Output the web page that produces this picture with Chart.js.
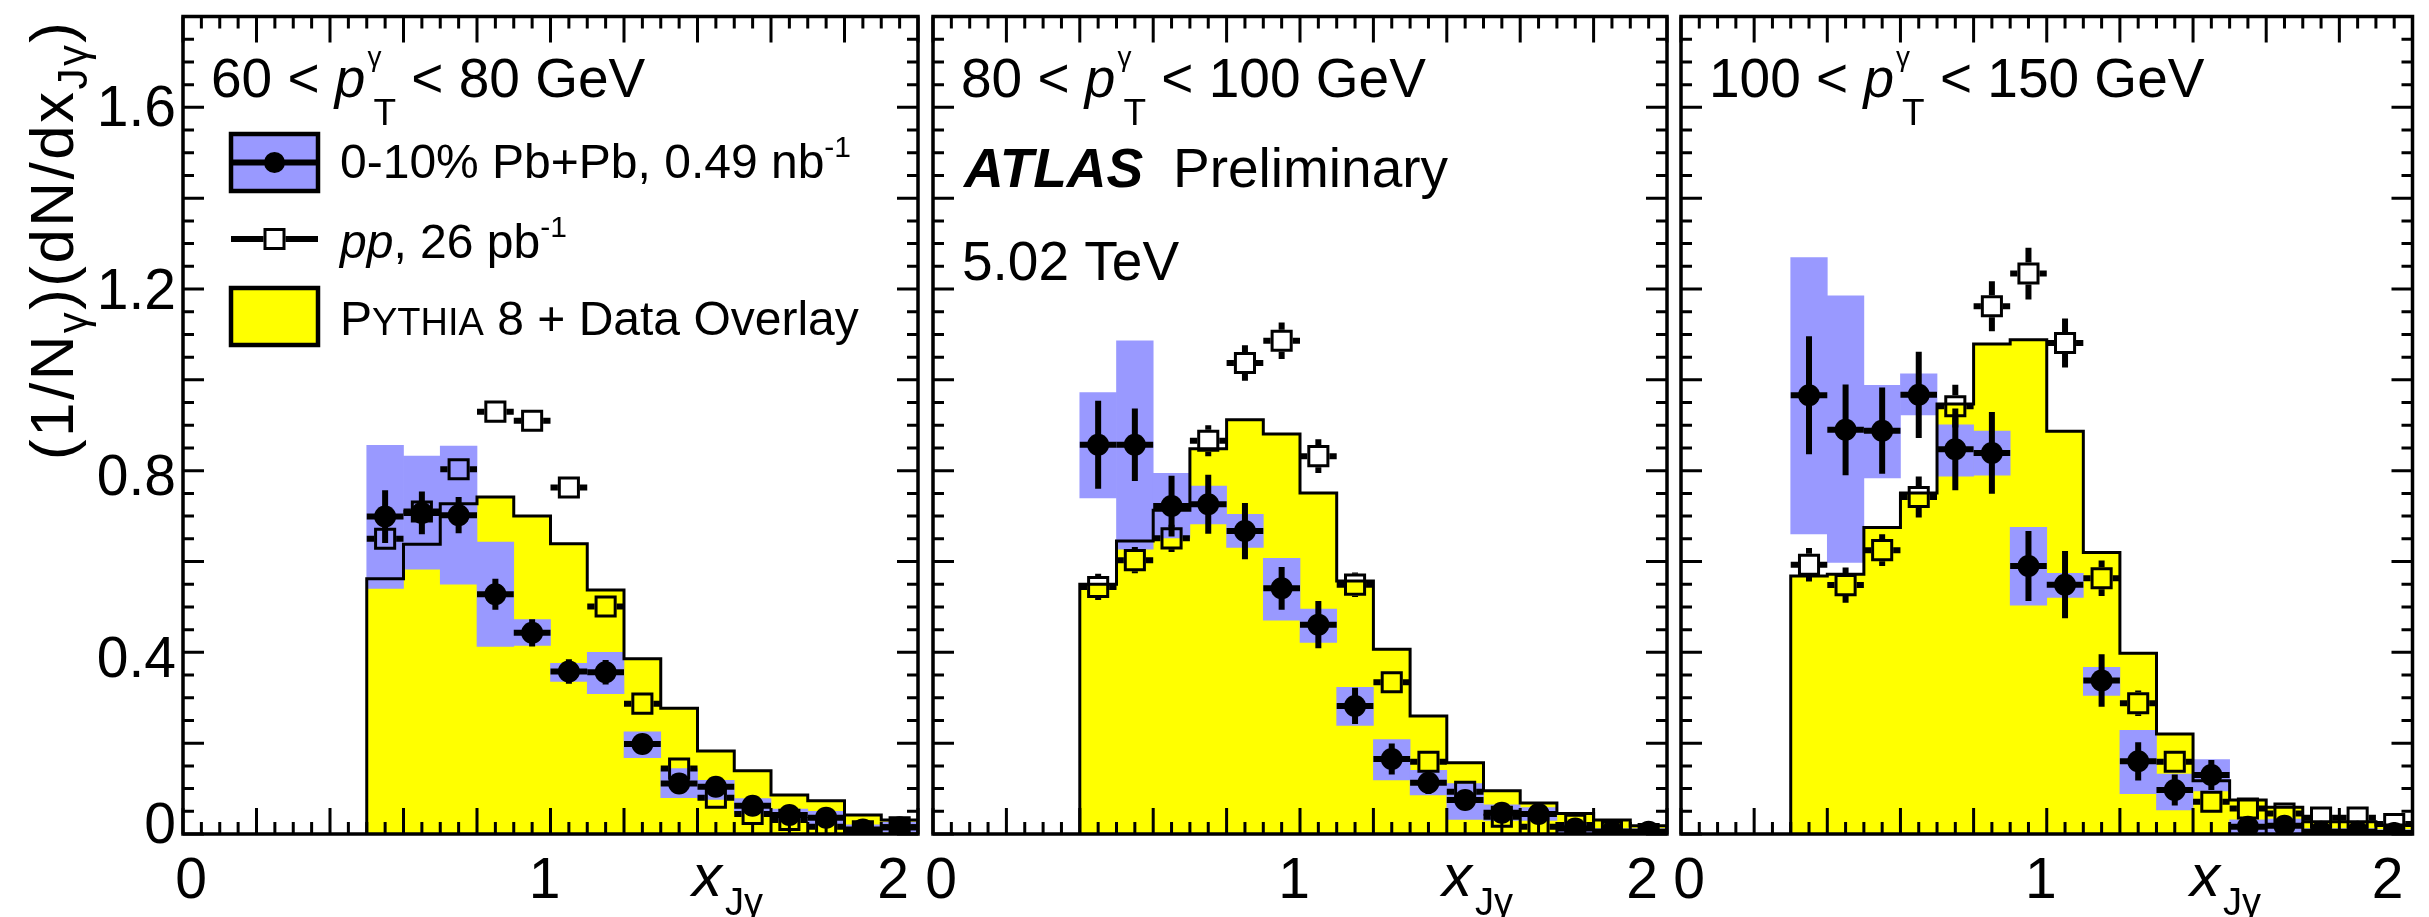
<!DOCTYPE html>
<html><head><meta charset="utf-8">
<script src="https://cdn.jsdelivr.net/npm/chart.js@4.4.1/dist/chart.umd.min.js"></script>
<style>
html,body{margin:0;padding:0;background:#fff;}
#wrap{position:relative;width:2429px;height:917px;background:#fff;}
canvas{position:absolute;left:0;top:0;}
</style></head><body>
<div id="wrap">
<canvas id="c1" width="2429" height="917"></canvas>
<canvas id="c2" width="2429" height="917"></canvas>
<canvas id="c3" width="2429" height="917"></canvas>
</div>
<script>
// ---------------- DATA ----------------
// Panel 1: 60 < pT < 80 GeV
const edges1 = [0.5,0.6,0.7,0.8,0.9,1.0,1.1,1.2,1.3,1.4,1.5,1.6,1.7,1.8,1.9,2.0];
const sim1 = [0.562,0.638,0.727,0.742,0.700,0.639,0.537,0.386,0.277,0.183,0.139,0.086,0.073,0.042,0.031];
const pbpb1 = [0.699,0.707,0.702,0.528,0.443,0.358,0.356,0.198,0.111,0.104,0.062,0.042,0.036,0.010,0.015];
const pbpbStat1 = [0.058,0.047,0.040,0.034,0.030,0.027,0.027,0.020,0.020,0.018,0.015,0.015,0.015,0.012,0.012];
const pbpbSysLo1 = [0.541,0.583,0.550,0.413,0.415,0.336,0.309,0.168,0.080,0.076,0.045,0.030,0.022,0.000,0.004];
const pbpbSysHi1 = [0.856,0.832,0.854,0.643,0.472,0.376,0.400,0.225,0.144,0.118,0.078,0.055,0.050,0.020,0.026];
const pp1 = [0.650,0.710,0.803,0.930,0.910,0.763,0.501,0.287,0.144,0.080,0.044,0.031,0.016,0.006,0.015];
const ppStat1 = [0.020,0.020,0.020,0.022,0.022,0.020,0.020,0.015,0.015,0.012,0.010,0.010,0.010,0.010,0.010];

// Panel 2: 80 < pT < 100 GeV
const edges2 = [0.4,0.5,0.6,0.7,0.8,0.9,1.0,1.1,1.2,1.3,1.4,1.5,1.6,1.7,1.8,1.9,2.0];
const sim2 = [0.550,0.645,0.713,0.848,0.912,0.881,0.751,0.557,0.407,0.260,0.157,0.095,0.068,0.045,0.031,0.018];
const pbpb2 = [0.857,0.857,0.722,0.726,0.667,0.541,0.461,0.282,0.165,0.113,0.075,0.047,0.044,0.012,0.005,0.005];
const pbpbStat2 = [0.097,0.080,0.067,0.065,0.062,0.047,0.052,0.040,0.034,0.025,0.022,0.020,0.020,0.015,0.015,0.015];
const pbpbSysLo2 = [0.740,0.627,0.652,0.683,0.631,0.471,0.422,0.239,0.119,0.086,0.032,0.030,0.030,0.000,0.000,0.000];
const pbpbSysHi2 = [0.972,1.086,0.794,0.766,0.704,0.607,0.495,0.323,0.208,0.140,0.111,0.064,0.058,0.025,0.012,0.012];
const pp2 = [0.544,0.603,0.651,0.866,1.037,1.086,0.832,0.549,0.334,0.159,0.093,0.038,0.016,0.020,0.005,0.000];
const ppStat2 = [0.029,0.029,0.030,0.034,0.039,0.040,0.037,0.027,0.020,0.015,0.012,0.010,0.010,0.010,0.010,0.010];

// Panel 3: 100 < pT < 150 GeV
const edges3 = [0.3,0.4,0.5,0.6,0.7,0.8,0.9,1.0,1.1,1.2,1.3,1.4,1.5,1.6,1.7,1.8,1.9,2.0];
const sim3 = [0.568,0.572,0.675,0.751,0.947,1.079,1.088,0.887,0.620,0.398,0.220,0.117,0.075,0.059,0.027,0.027,0.020];
const pbpb3 = [0.966,0.890,0.888,0.967,0.847,0.839,0.590,0.549,0.338,0.160,0.097,0.130,0.016,0.018,0.005,0.005,0.002];
const pbpbStat3 = [0.130,0.100,0.095,0.095,0.090,0.090,0.077,0.074,0.058,0.042,0.034,0.033,0.020,0.020,0.015,0.015,0.015];
const pbpbSysLo3 = [0.661,0.598,0.784,0.923,0.788,0.790,0.504,0.521,0.305,0.089,0.053,0.095,0.000,0.002,0.000,0.000,0.000];
const pbpbSysHi3 = [1.269,1.185,0.988,1.013,0.901,0.887,0.675,0.574,0.367,0.228,0.132,0.164,0.031,0.033,0.012,0.012,0.010];
const pp3 = [0.593,0.548,0.625,0.742,0.942,1.162,1.234,1.081,0.563,0.288,0.159,0.071,0.056,0.045,0.036,0.036,0.022];
const ppStat3 = [0.037,0.039,0.035,0.045,0.047,0.055,0.057,0.054,0.039,0.028,0.020,0.015,0.012,0.012,0.012,0.012,0.012];

// Axis tick labels
const xTickValues = [0, 1, 2];
const xTickLabels = ['0', '1', '2'];
const yTickValues = [0, 0.4, 0.8, 1.2, 1.6];
const yTickLabels = ['0', '0.4', '0.8', '1.2', '1.6'];

// Panel kinematic ranges (text)
const ptLow = ['60', '80', '100'];
const ptHigh = ['80', '100', '150'];

// ---------------- STYLE / LAYOUT ----------------
const FONT = '"Liberation Sans", Arial, Helvetica, sans-serif';
const F = (s, st) => `${st ? st + ' ' : ''}${s}px ${FONT}`;
const YELLOW = '#ffff00', BLUE = '#9999ff', BLACK = '#000000';
const TOP = 13, BOTTOM = 834, W = 2429, H = 917;

const panels = [
  {canvas:'c1', left:183, right:918, edges:edges1, sim:sim1, pb:pbpb1, pbStat:pbpbStat1, sysLo:pbpbSysLo1, sysHi:pbpbSysHi1, pp:pp1, ppStat:ppStat1, idx:0},
  {canvas:'c2', left:933, right:1667, edges:edges2, sim:sim2, pb:pbpb2, pbStat:pbpbStat2, sysLo:pbpbSysLo2, sysHi:pbpbSysHi2, pp:pp2, ppStat:ppStat2, idx:1},
  {canvas:'c3', left:1681, right:2414, edges:edges3, sim:sim3, pb:pbpb3, pbStat:pbpbStat3, sysLo:pbpbSysLo3, sysHi:pbpbSysHi3, pp:pp3, ppStat:ppStat3, idx:2}
];

function drawRich(ctx, x, y, segs) {
  let cx = x;
  for (const s of segs) {
    ctx.font = s.f;
    const px = cx + (s.dx || 0);
    ctx.fillText(s.t, px, y + (s.dy || 0));
    if (!s.stay) cx = px + ctx.measureText(s.t).width;
  }
  return cx;
}

function drawHeader(ctx, x, y, lo, hi) {
  drawRich(ctx, x, y, [
    {t: lo + ' < ', f: F(55)},
    {t: 'p', f: F(55, 'italic')},
    {t: '\u03B3', f: F(28), dx: 2, dy: -31, stay: true},
    {t: 'T', f: F(37), dx: 8, dy: 28},
    {t: ' < ' + hi + ' GeV', f: F(55)}
  ]);
}

function centersOf(edges) {
  return edges.slice(0, -1).map((e, i) => (e + edges[i + 1]) / 2);
}

function drawPPErrors(chart, p) {
  const ctx = chart.ctx, xs = chart.scales.x, ys = chart.scales.y, a = chart.chartArea;
  ctx.save();
  ctx.beginPath(); ctx.rect(a.left, a.top, a.right - a.left, a.bottom - a.top); ctx.clip();
  ctx.strokeStyle = BLACK; ctx.lineWidth = 6; ctx.lineCap = 'butt';
  const h = 11;
  p.pp.forEach((v, i) => {
    const x0 = xs.getPixelForValue(p.edges[i]), x1 = xs.getPixelForValue(p.edges[i + 1]);
    const cx = (x0 + x1) / 2, cy = ys.getPixelForValue(v);
    const e = Math.abs(ys.getPixelForValue(v + p.ppStat[i]) - cy);
    ctx.beginPath();
    ctx.moveTo(x0, cy); ctx.lineTo(cx - h, cy);
    ctx.moveTo(cx + h, cy); ctx.lineTo(x1, cy);
    if (e > h) {
      ctx.moveTo(cx, cy - e); ctx.lineTo(cx, cy - h);
      ctx.moveTo(cx, cy + h); ctx.lineTo(cx, cy + e);
    }
    ctx.stroke();
  });
  ctx.restore();
}

function drawPbErrors(chart, p) {
  const ctx = chart.ctx, xs = chart.scales.x, ys = chart.scales.y, a = chart.chartArea;
  ctx.save();
  ctx.beginPath(); ctx.rect(a.left, a.top, a.right - a.left, a.bottom - a.top); ctx.clip();
  ctx.strokeStyle = BLACK; ctx.lineWidth = 6; ctx.lineCap = 'butt';
  p.pb.forEach((v, i) => {
    const x0 = xs.getPixelForValue(p.edges[i]), x1 = xs.getPixelForValue(p.edges[i + 1]);
    const cx = (x0 + x1) / 2, cy = ys.getPixelForValue(v);
    const yt = ys.getPixelForValue(v + p.pbStat[i]), yb = ys.getPixelForValue(v - p.pbStat[i]);
    ctx.beginPath();
    ctx.moveTo(x0, cy); ctx.lineTo(x1, cy);
    ctx.moveTo(cx, yt); ctx.lineTo(cx, yb);
    ctx.stroke();
  });
  ctx.restore();
}

function drawFrame(chart, p) {
  const ctx = chart.ctx, xs = chart.scales.x, ys = chart.scales.y, a = chart.chartArea;
  ctx.save();
  ctx.strokeStyle = BLACK; ctx.lineCap = 'butt';
  ctx.lineWidth = 3;
  // ticks
  ctx.beginPath();
  for (let k = 0; k <= 40; k++) {
    const px = xs.getPixelForValue(k * 0.05);
    const len = (k % 4 === 0) ? 26 : 12;
    ctx.moveTo(px, a.bottom); ctx.lineTo(px, a.bottom - len);
    ctx.moveTo(px, a.top); ctx.lineTo(px, a.top + len);
  }
  for (let k = 0; k <= 36; k++) {
    const py = ys.getPixelForValue(k * 0.05);
    const len = (k % 4 === 0) ? 21 : 11;
    ctx.moveTo(a.left, py); ctx.lineTo(a.left + len, py);
    ctx.moveTo(a.right, py); ctx.lineTo(a.right - len, py);
  }
  ctx.stroke();
  ctx.lineWidth = 3.5;
  ctx.strokeRect(a.left, a.top, a.right - a.left, a.bottom - a.top);

  // x tick labels
  ctx.fillStyle = BLACK;
  ctx.font = F(57);
  ctx.textAlign = 'center'; ctx.textBaseline = 'alphabetic';
  const xOff = [8, -6, -25];
  xTickValues.forEach((v, i) => {
    ctx.fillText(xTickLabels[i], xs.getPixelForValue(v) + xOff[i], 898);
  });
  // x axis title
  ctx.textAlign = 'left';
  const tx = a.left + 509;
  ctx.font = F(60, 'italic');
  ctx.fillText('x', tx, 896);
  const xw = ctx.measureText('x').width;
  ctx.font = F(38);
  ctx.fillText('J\u03B3', tx + xw + 3, 915);

  // y tick labels (first panel only)
  if (p.idx === 0) {
    ctx.font = F(57);
    ctx.textAlign = 'right';
    const yOff = [-11, 5, 4, 0, -1];
    yTickValues.forEach((v, i) => {
      ctx.fillText(yTickLabels[i], a.left - 7, ys.getPixelForValue(v) + yOff[i] + 20);
    });
    drawYTitle(ctx);
  }
  ctx.restore();
}

function drawYTitle(ctx) {
  // rotated title: (1/N_gamma)(dN/dx_Jgamma)
  const big = F(62), small = F(42);
  const glyphs = [];
  const add = (str, f, dy) => { for (const ch of str) glyphs.push({ch, f, dy}); };
  add('(1/N', big, 0); add('\u03B3', small, 14); add(')(dN/dx', big, 0); add('J\u03B3', small, 14); add(')', big, 0);
  let natural = 0;
  glyphs.forEach(g => { ctx.font = g.f; g.w = ctx.measureText(g.ch).width; natural += g.w; });
  const target = 438;
  const ls = (target - natural) / (glyphs.length - 1);
  ctx.save();
  ctx.translate(73, 460);
  ctx.rotate(-Math.PI / 2);
  ctx.textAlign = 'left'; ctx.textBaseline = 'alphabetic';
  let x = 0;
  glyphs.forEach(g => { ctx.font = g.f; ctx.fillText(g.ch, x, g.dy); x += g.w + ls; });
  ctx.restore();
}

function drawTexts(chart, p) {
  const ctx = chart.ctx, a = chart.chartArea;
  ctx.save();
  ctx.fillStyle = BLACK; ctx.textAlign = 'left'; ctx.textBaseline = 'alphabetic';
  drawHeader(ctx, a.left + 28, 97, ptLow[p.idx], ptHigh[p.idx]);
  if (p.idx === 1) {
    ctx.font = F(55, 'bold italic');
    ctx.fillText('ATLAS', a.left + 31, 187);
    ctx.font = F(55);
    ctx.fillText('Preliminary', a.left + 240, 187);
    ctx.fillText('5.02 TeV', a.left + 29, 280);
  }
  if (p.idx === 0) {
    // legend
    const bx0 = 231, bx1 = 318;
    ctx.lineWidth = 4.5; ctx.strokeStyle = BLACK;
    ctx.fillStyle = BLUE; ctx.fillRect(bx0, 134, bx1 - bx0, 57);
    ctx.strokeRect(bx0, 134, bx1 - bx0, 57);
    ctx.lineWidth = 6;
    ctx.beginPath(); ctx.moveTo(bx0, 162.5); ctx.lineTo(bx1, 162.5); ctx.stroke();
    ctx.fillStyle = BLACK; ctx.beginPath(); ctx.arc((bx0 + bx1) / 2, 162.5, 10.5, 0, Math.PI * 2); ctx.fill();
    // pp
    const cx = (bx0 + bx1) / 2;
    ctx.beginPath(); ctx.moveTo(bx0, 239); ctx.lineTo(cx - 11, 239); ctx.moveTo(cx + 11, 239); ctx.lineTo(bx1, 239); ctx.stroke();
    ctx.lineWidth = 3; ctx.strokeRect(cx - 9.5, 229.5, 19, 19);
    // yellow
    ctx.lineWidth = 4.5;
    ctx.fillStyle = YELLOW; ctx.fillRect(bx0, 288, bx1 - bx0, 57);
    ctx.strokeRect(bx0, 288, bx1 - bx0, 57);
    ctx.fillStyle = BLACK;
    drawRich(ctx, 340, 178, [
      {t: '0-10% Pb+Pb, 0.49 nb', f: F(48)},
      {t: '-1', f: F(30), dy: -21}
    ]);
    drawRich(ctx, 340, 258, [
      {t: 'pp', f: F(48, 'italic')},
      {t: ', 26 pb', f: F(48)},
      {t: '-1', f: F(30), dy: -21}
    ]);
    drawRich(ctx, 340, 335, [
      {t: 'P', f: F(48)},
      {t: 'YTHIA', f: F(38)},
      {t: ' 8 + Data Overlay', f: F(48)}
    ]);
  }
  ctx.restore();
}

function makeChart(p) {
  const centers = centersOf(p.edges);
  const n = p.edges.length;
  const stepPts = [{x: p.edges[0], y: 0}];
  p.sim.forEach((v, i) => stepPts.push({x: p.edges[i], y: v}));
  stepPts.push({x: p.edges[n - 1], y: p.sim[p.sim.length - 1]});
  stepPts.push({x: p.edges[n - 1], y: 0});

  const plugin = {
    id: 'atlasPanel' + p.idx,
    afterDatasetDraw(chart, args) {
      const lbl = chart.data.datasets[args.index].label;
      if (lbl === 'Simulation outline') drawPPErrors(chart, p);
      if (lbl === 'pp') drawPbErrors(chart, p);
    },
    afterDraw(chart) {
      drawFrame(chart, p);
      drawTexts(chart, p);
    }
  };

  return new Chart(document.getElementById(p.canvas), {
    type: 'bar',
    data: {
      datasets: [
        {type: 'line', label: 'Pythia 8 + Data Overlay', data: stepPts, stepped: true, fill: 'origin',
         backgroundColor: YELLOW, borderWidth: 0, borderColor: 'rgba(0,0,0,0)', pointRadius: 0, order: 5},
        {type: 'bar', label: 'PbPb sys', data: centers.map((c, i) => ({x: c, y: [p.sysLo[i], p.sysHi[i]]})),
         backgroundColor: BLUE, borderWidth: 0, barPercentage: 1, categoryPercentage: 1, order: 4},
        {type: 'line', label: 'Simulation outline', data: stepPts, stepped: true, fill: false,
         borderColor: BLACK, borderWidth: 3, pointRadius: 0, order: 3},
        {type: 'scatter', label: 'pp', data: centers.map((c, i) => ({x: c, y: p.pp[i]})),
         pointStyle: 'rect', pointRadius: 13.5, borderColor: BLACK, borderWidth: 3,
         backgroundColor: 'rgba(0,0,0,0)', showLine: false, order: 2},
        {type: 'scatter', label: '0-10% Pb+Pb', data: centers.map((c, i) => ({x: c, y: p.pb[i]})),
         pointStyle: 'circle', pointRadius: 11, borderWidth: 0, backgroundColor: BLACK, borderColor: BLACK,
         showLine: false, order: 1}
      ]
    },
    options: {
      responsive: false, animation: false, devicePixelRatio: 1,
      layout: {padding: {left: p.left, right: W - p.right, top: TOP, bottom: H - BOTTOM}},
      scales: {
        x: {type: 'linear', min: 0, max: 2, display: false, offset: false, grid: {offset: false}},
        y: {type: 'linear', min: 0, max: 1.8, display: false}
      },
      plugins: {legend: {display: false}, tooltip: {enabled: false}},
      events: []
    },
    plugins: [plugin]
  });
}

panels.forEach(makeChart);
</script>
</body></html>
